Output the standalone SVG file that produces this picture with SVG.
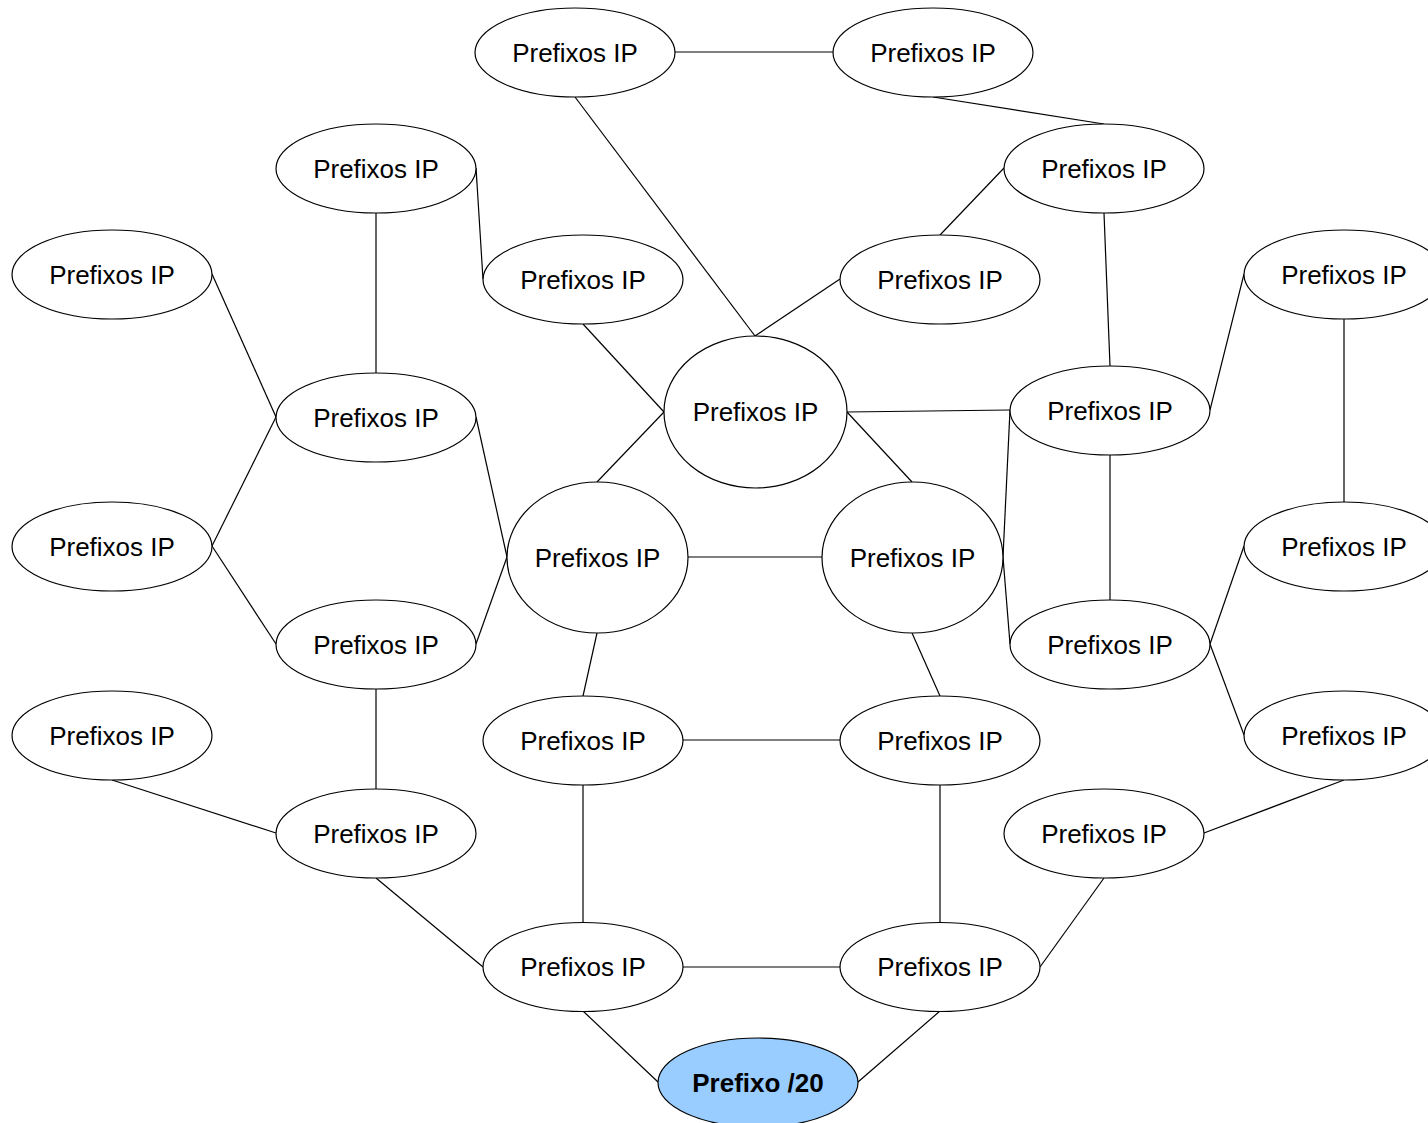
<svg xmlns="http://www.w3.org/2000/svg" width="1428" height="1123" viewBox="0 0 1428 1123">
<style>
.n ellipse{fill:#fff;stroke:#000;stroke-width:1.2}
.n text{font-family:"Liberation Sans",Arial,sans-serif;font-size:26px;text-anchor:middle;fill:#000}
#root ellipse{fill:#99ccff}
#root text{font-weight:bold}
.c line{stroke:#000;stroke-width:1.2}
</style>
<rect width="1428" height="1123" fill="#fff"/>
<g class="c" id="connectors">
<line x1="675" y1="52" x2="833" y2="52"/>
<line x1="933" y1="97" x2="1104" y2="124"/>
<line x1="575" y1="97" x2="755" y2="336"/>
<line x1="476" y1="168" x2="483" y2="279"/>
<line x1="376" y1="213" x2="376" y2="373"/>
<line x1="1004" y1="168" x2="940" y2="235"/>
<line x1="840" y1="279" x2="755" y2="336"/>
<line x1="1104" y1="213" x2="1110" y2="366"/>
<line x1="212" y1="274" x2="276" y2="417"/>
<line x1="583" y1="324" x2="664" y2="412"/>
<line x1="847" y1="412" x2="1010" y2="410"/>
<line x1="847" y1="412" x2="912" y2="482"/>
<line x1="664" y1="412" x2="597" y2="482"/>
<line x1="1210" y1="410" x2="1244" y2="274"/>
<line x1="1344" y1="319" x2="1344" y2="502"/>
<line x1="1010" y1="410" x2="1003" y2="557"/>
<line x1="1003" y1="557" x2="1010" y2="644"/>
<line x1="1110" y1="455" x2="1110" y2="600"/>
<line x1="276" y1="417" x2="212" y2="546"/>
<line x1="212" y1="546" x2="276" y2="644"/>
<line x1="476" y1="417" x2="507" y2="557"/>
<line x1="507" y1="557" x2="476" y2="644"/>
<line x1="688" y1="557" x2="822" y2="557"/>
<line x1="1210" y1="644" x2="1244" y2="546"/>
<line x1="1210" y1="644" x2="1244" y2="735"/>
<line x1="597" y1="633" x2="583" y2="696"/>
<line x1="912" y1="633" x2="940" y2="696"/>
<line x1="376" y1="689" x2="376" y2="789"/>
<line x1="683" y1="740" x2="840" y2="740"/>
<line x1="112" y1="780" x2="276" y2="833"/>
<line x1="583" y1="785" x2="583" y2="922"/>
<line x1="940" y1="785" x2="940" y2="922"/>
<line x1="1344" y1="780" x2="1204" y2="833"/>
<line x1="376" y1="878" x2="483" y2="967"/>
<line x1="1104" y1="878" x2="1040" y2="967"/>
<line x1="683" y1="967" x2="840" y2="967"/>
<line x1="583" y1="1011" x2="658" y2="1082"/>
<line x1="940" y1="1011" x2="858" y2="1082"/>
</g>
<g class="n" id="n1"><ellipse cx="575" cy="52.5" rx="100" ry="44.5"/><text x="575" y="61.5">Prefixos IP</text></g>
<g class="n" id="n2"><ellipse cx="933" cy="52.5" rx="100" ry="44.5"/><text x="933" y="61.5">Prefixos IP</text></g>
<g class="n" id="n3"><ellipse cx="376" cy="168.5" rx="100" ry="44.5"/><text x="376" y="177.5">Prefixos IP</text></g>
<g class="n" id="n4"><ellipse cx="1104" cy="168.5" rx="100" ry="44.5"/><text x="1104" y="177.5">Prefixos IP</text></g>
<g class="n" id="n5"><ellipse cx="112" cy="274.5" rx="100" ry="44.5"/><text x="112" y="283.5">Prefixos IP</text></g>
<g class="n" id="n6"><ellipse cx="583" cy="279.5" rx="100" ry="44.5"/><text x="583" y="288.5">Prefixos IP</text></g>
<g class="n" id="n7"><ellipse cx="940" cy="279.5" rx="100" ry="44.5"/><text x="940" y="288.5">Prefixos IP</text></g>
<g class="n" id="n8"><ellipse cx="1344" cy="274.5" rx="100" ry="44.5"/><text x="1344" y="283.5">Prefixos IP</text></g>
<g class="n" id="n9"><ellipse cx="755.5" cy="412" rx="91.5" ry="76"/><text x="755.5" y="421">Prefixos IP</text></g>
<g class="n" id="n10"><ellipse cx="376" cy="417.5" rx="100" ry="44.5"/><text x="376" y="426.5">Prefixos IP</text></g>
<g class="n" id="n11"><ellipse cx="1110" cy="410.5" rx="100" ry="44.5"/><text x="1110" y="419.5">Prefixos IP</text></g>
<g class="n" id="n12"><ellipse cx="112" cy="546.5" rx="100" ry="44.5"/><text x="112" y="555.5">Prefixos IP</text></g>
<g class="n" id="n13"><ellipse cx="597.5" cy="557.5" rx="90.5" ry="75.5"/><text x="597.5" y="566.5">Prefixos IP</text></g>
<g class="n" id="n14"><ellipse cx="912.5" cy="557.5" rx="90.5" ry="75.5"/><text x="912.5" y="566.5">Prefixos IP</text></g>
<g class="n" id="n15"><ellipse cx="1344" cy="546.5" rx="100" ry="44.5"/><text x="1344" y="555.5">Prefixos IP</text></g>
<g class="n" id="n16"><ellipse cx="376" cy="644.5" rx="100" ry="44.5"/><text x="376" y="653.5">Prefixos IP</text></g>
<g class="n" id="n17"><ellipse cx="1110" cy="644.5" rx="100" ry="44.5"/><text x="1110" y="653.5">Prefixos IP</text></g>
<g class="n" id="n18"><ellipse cx="112" cy="735.5" rx="100" ry="44.5"/><text x="112" y="744.5">Prefixos IP</text></g>
<g class="n" id="n19"><ellipse cx="583" cy="740.5" rx="100" ry="44.5"/><text x="583" y="749.5">Prefixos IP</text></g>
<g class="n" id="n20"><ellipse cx="940" cy="740.5" rx="100" ry="44.5"/><text x="940" y="749.5">Prefixos IP</text></g>
<g class="n" id="n21"><ellipse cx="1344" cy="735.5" rx="100" ry="44.5"/><text x="1344" y="744.5">Prefixos IP</text></g>
<g class="n" id="n22"><ellipse cx="376" cy="833.5" rx="100" ry="44.5"/><text x="376" y="842.5">Prefixos IP</text></g>
<g class="n" id="n23"><ellipse cx="1104" cy="833.5" rx="100" ry="44.5"/><text x="1104" y="842.5">Prefixos IP</text></g>
<g class="n" id="n24"><ellipse cx="583" cy="967" rx="100" ry="44.5"/><text x="583" y="976">Prefixos IP</text></g>
<g class="n" id="n25"><ellipse cx="940" cy="967" rx="100" ry="44.5"/><text x="940" y="976">Prefixos IP</text></g>
<g class="n" id="root"><ellipse cx="758" cy="1082.5" rx="100" ry="44.5"/><text x="758" y="1091.5">Prefixo /20</text></g>
</svg>
